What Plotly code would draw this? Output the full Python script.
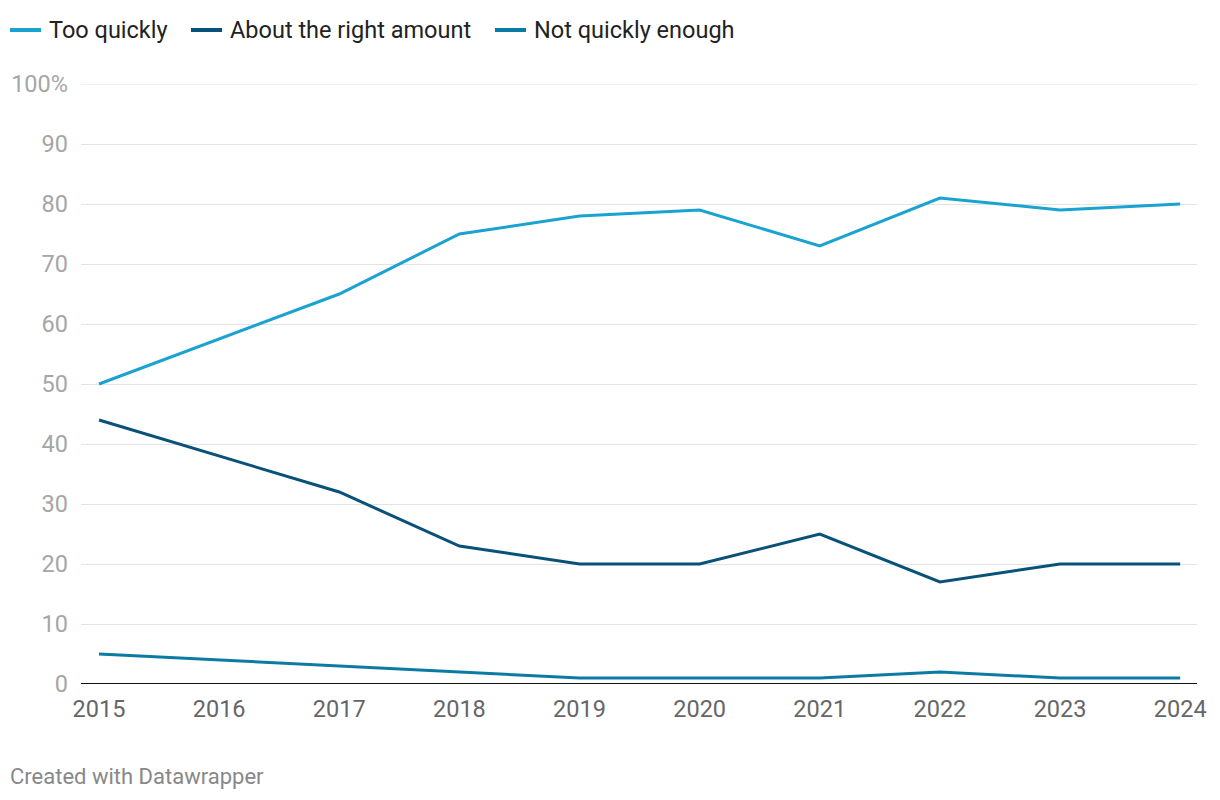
import plotly.graph_objects as go

years = [2015, 2016, 2017, 2018, 2019, 2020, 2021, 2022, 2023, 2024]
series_names = ["Too quickly", "About the right amount", "Not quickly enough"]
too_quickly = [50, None, 65, 75, 78, 79, 73, 81, 79, 80]
about_right = [44, None, 32, 23, 20, 20, 25, 17, 20, 20]
not_quickly = [5, None, 3, 2, 1, 1, 1, 2, 1, 1]
colors = ["#1aa3d1", "#08527a", "#0b7ba4"]
y_ticks = [0, 10, 20, 30, 40, 50, 60, 70, 80, 90, 100]
y_ticktext = ["0", "10", "20", "30", "40", "50", "60", "70", "80", "90", "100%"]

W, H = 1220, 800
ml, mr, mt, mb = 81, 23, 84, 116
pw = W - ml - mr
ph = H - mt - mb

fig = go.Figure()
for name, vals, col in zip(series_names, [too_quickly, about_right, not_quickly], colors):
    fig.add_trace(go.Scatter(x=years, y=vals, name=name, mode="lines",
                             connectgaps=True, cliponaxis=False,
                             line=dict(color=col, width=3), hoverinfo="skip"))

# custom legend
legend_px = [10, 191, 495]
ly = (H - mb - 30) / ph
for name, col, px in zip(series_names, colors, legend_px):
    fig.add_shape(type="line", xref="paper", yref="paper",
                  x0=(px - ml) / pw, x1=(px + 31 - ml) / pw, y0=ly, y1=ly,
                  line=dict(color=col, width=4))
    fig.add_annotation(xref="paper", yref="paper", x=(px + 37 - ml) / pw, y=ly,
                       xanchor="left", yanchor="middle", text=name, showarrow=False,
                       font=dict(family="Roboto", size=23.5, color="#222222"))

fig.add_annotation(xref="paper", yref="paper", x=(8 - ml) / pw, y=(H - mb - 776) / ph,
                   xanchor="left", yanchor="middle", text="Created with Datawrapper",
                   showarrow=False, font=dict(family="Roboto", size=22, color="#888888"))

fig.update_layout(
    width=W, height=H, margin=dict(l=ml, r=mr, t=mt, b=mb),
    paper_bgcolor="white", plot_bgcolor="white", showlegend=False,
    font=dict(family="Roboto"),
    xaxis=dict(range=[2015 - 0.15, 2024 + 0.14], tickvals=years,
               ticktext=[str(y) for y in years], showgrid=False, zeroline=False,
               showline=False, ticks="", tickfont=dict(size=23.5, color="#666666"),
               ticklabelstandoff=8),
    yaxis=dict(range=[0, 100], tickvals=y_ticks, ticktext=y_ticktext,
               showgrid=True, gridcolor="#e3e3e3", gridwidth=1, zeroline=False,
               showline=False, ticks="", tickfont=dict(size=23.5, color="#a6a6a6"),
               ticklabelstandoff=12),
)
fig.add_shape(type="line", xref="paper", yref="y", x0=0, x1=1, y0=100, y1=100,
              line=dict(color="#e3e3e3", width=1), layer="below")
fig.add_shape(type="line", xref="paper", yref="y", x0=0, x1=1, y0=0, y1=0,
              line=dict(color="#111111", width=2), layer="above")

fig.write_html("out.html")
